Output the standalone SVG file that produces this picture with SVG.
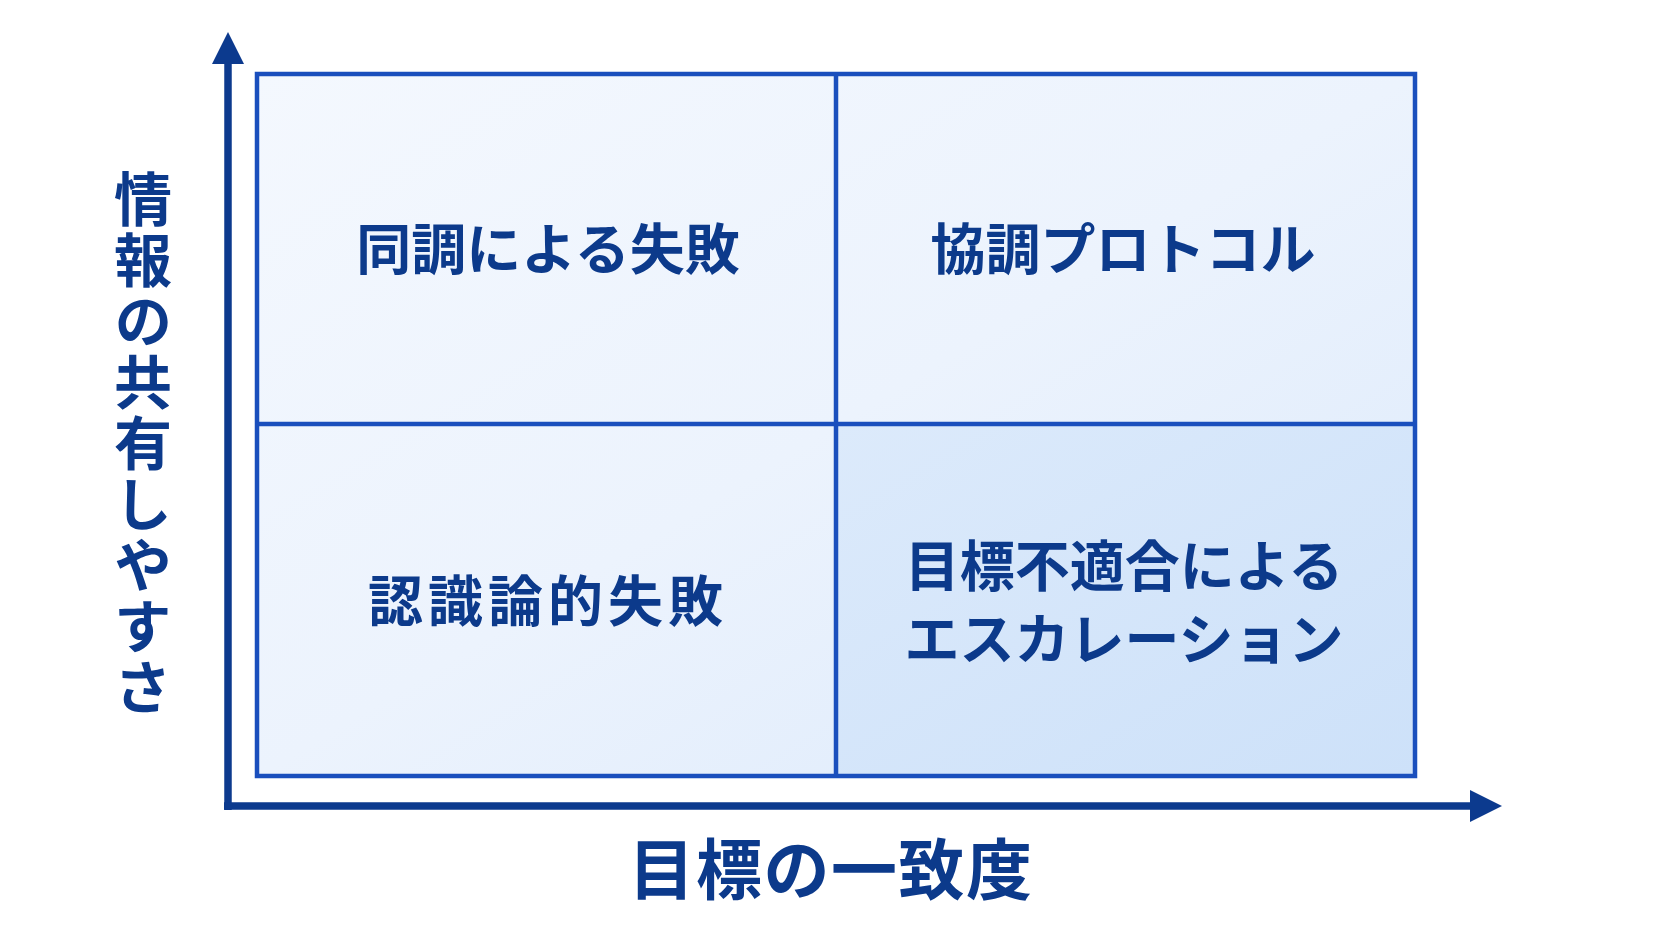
<svg xmlns="http://www.w3.org/2000/svg" width="1672" height="941" viewBox="0 0 1672 941">
<defs>
<linearGradient id="boxg" x1="0" y1="0" x2="1" y2="1">
<stop offset="0" stop-color="#f4f8fe"/>
<stop offset="0.5" stop-color="#ecf3fd"/>
<stop offset="1" stop-color="#dbe9fb"/>
</linearGradient>
<linearGradient id="brg" x1="0" y1="0" x2="1" y2="1">
<stop offset="0" stop-color="#dceafb"/>
<stop offset="1" stop-color="#cde1f9"/>
</linearGradient>
<marker id="ah" viewBox="0 0 10 10" refX="0" refY="5" markerUnits="userSpaceOnUse" markerWidth="32" markerHeight="36" orient="auto">
<path d="M0,0 L10,5 L0,10 Z" fill="#0c3a8e"/>
</marker>
<style>
.q{font-family:"Noto Sans CJK JP","Noto Sans CJK SC",sans-serif;font-weight:700;font-size:55px;fill:#0c3a8b;text-anchor:middle}
.ax{font-family:"Noto Sans CJK JP","Noto Sans CJK SC",sans-serif;font-weight:700;fill:#0c3a8b;text-anchor:middle}
.grid{stroke:#1a4fbd;stroke-width:4.5;fill:none}
.axis{stroke:#0c3a8e;stroke-width:7.5;fill:none}
</style>
</defs>
<rect width="1672" height="941" fill="#ffffff"/>
<g id="matrix">
<rect x="257" y="74" width="1158" height="702" fill="url(#boxg)"/>
<rect x="836" y="424" width="579" height="352" fill="url(#brg)"/>
<rect x="257" y="74" width="1158" height="702" class="grid"/>
<line x1="836" y1="74" x2="836" y2="776" class="grid"/>
<line x1="257" y1="424" x2="1415" y2="424" class="grid"/>
</g>
<g id="connectors">
<path d="M228,810 L228,64" class="axis" marker-end="url(#ah)"/>
<path d="M224,806 L1470,806" class="axis" marker-end="url(#ah)"/>
</g>
<g id="q-tl"><text class="q" x="548" y="269">同調による失敗</text></g>
<g id="q-tr"><text class="q" x="1123" y="269">協調プロトコル</text></g>
<g id="q-bl"><text class="q" x="548" y="621" letter-spacing="5">認識論的失敗</text></g>
<g id="q-br"><text class="q" x="1124" y="586">目標不適合による</text><text class="q" x="1124" y="659" font-size="54">エスカレーション</text></g>
<g id="x-label"><text class="ax" x="831" y="894" font-size="66" letter-spacing="1.5">目標の一致度</text></g>
<g id="y-label"><text class="ax" x="143" y="444" font-size="58" letter-spacing="3" writing-mode="vertical-rl">情報の共有しやすさ</text></g>
</svg>
